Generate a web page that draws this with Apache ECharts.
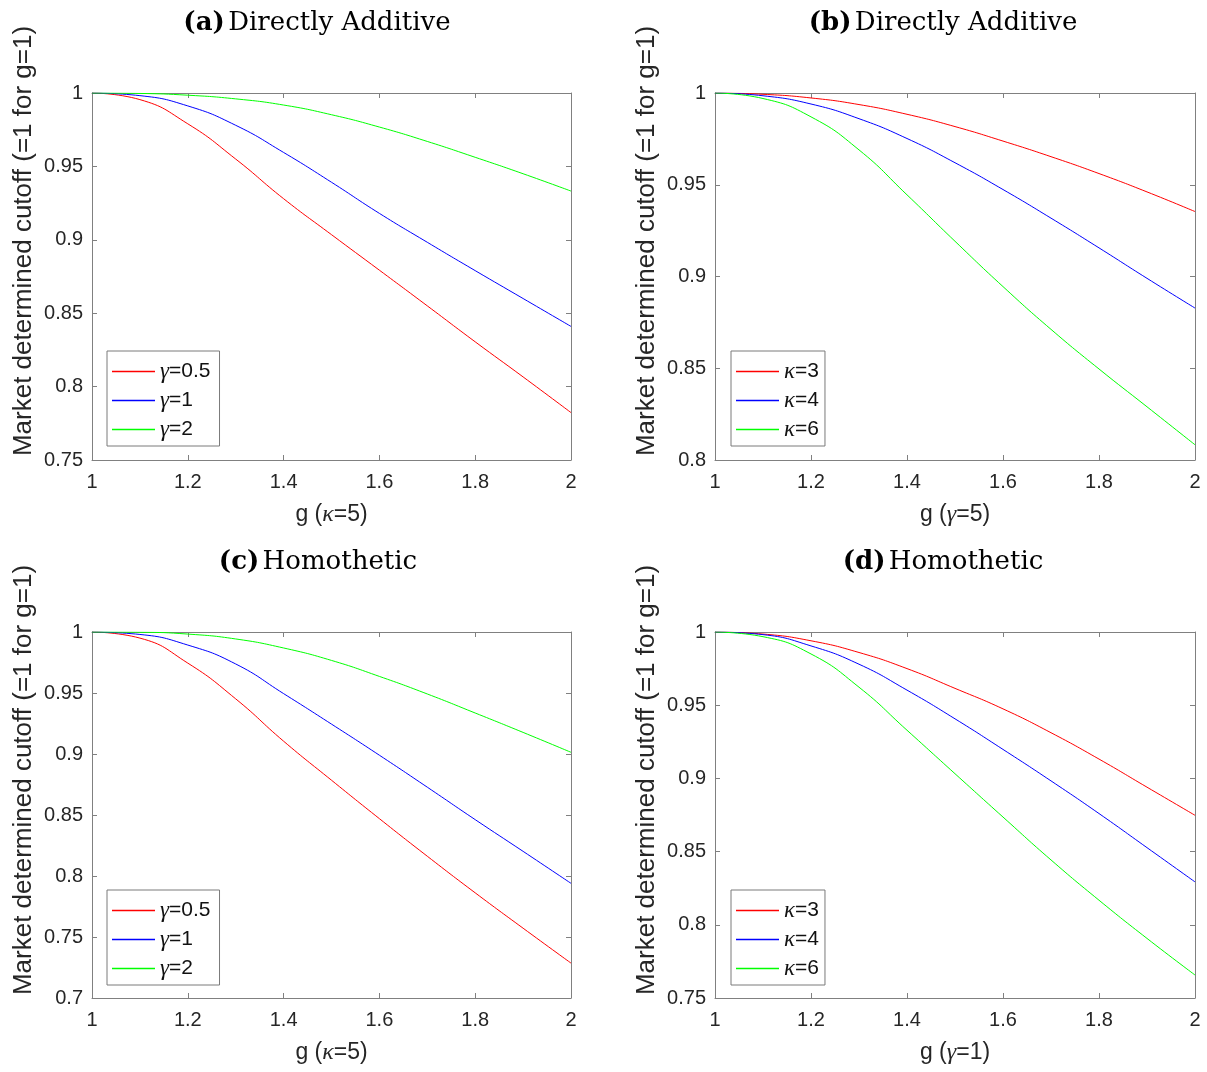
<!DOCTYPE html>
<html>
<head>
<meta charset="utf-8">
<script src="https://cdn.jsdelivr.net/npm/echarts@6/dist/echarts.min.js"></script>
<style>
html,body{margin:0;padding:0;background:#fff;}
#main{width:1207px;height:1072px;}
</style>
</head>
<body>
<div id="main"></div>
<script>
// ---- data ----
const gValues = [1, 1.1, 1.2, 1.3, 1.4, 1.5, 1.6, 1.7, 1.8, 1.9, 2];

// (a) Directly Additive, kappa = 5
const aGamma05 = [1, 0.9955, 0.979, 0.955, 0.928, 0.9035, 0.8793, 0.855, 0.8305, 0.8066, 0.7823];
const aGamma1  = [1, 0.9982, 0.9912, 0.978, 0.9595, 0.9392, 0.918, 0.8983, 0.879, 0.86, 0.841];
const aGamma2  = [1, 0.9997, 0.9985, 0.996, 0.9918, 0.9852, 0.9768, 0.967, 0.9562, 0.945, 0.9332];

// (b) Directly Additive, gamma = 5
const bKappa3 = [1, 0.9993, 0.9973, 0.9937, 0.9884, 0.9817, 0.9738, 0.9653, 0.9561, 0.9461, 0.9354];
const bKappa4 = [1, 0.9985, 0.994, 0.986, 0.9752, 0.962, 0.9474, 0.9318, 0.9156, 0.899, 0.8828];
const bKappa6 = [1, 0.997, 0.987, 0.969, 0.9445, 0.9192, 0.8945, 0.8712, 0.8496, 0.829, 0.8083];

// (c) Homothetic, kappa = 5
const cGamma05 = [1, 0.995, 0.9745, 0.9452, 0.9105, 0.8785, 0.847, 0.8162, 0.7862, 0.7572, 0.7286];
const cGamma1  = [1, 0.998, 0.9893, 0.9738, 0.9495, 0.9245, 0.899, 0.8728, 0.8462, 0.8202, 0.794];
const cGamma2  = [1, 0.9998, 0.9983, 0.9943, 0.9869, 0.9767, 0.9636, 0.9492, 0.9336, 0.9177, 0.9014];

// (d) Homothetic, gamma = 1
const dKappa3 = [1, 0.9986, 0.994, 0.986, 0.975, 0.9615, 0.9475, 0.9312, 0.9132, 0.894, 0.8748];
const dKappa4 = [1, 0.9982, 0.9905, 0.978, 0.9603, 0.9407, 0.9198, 0.8983, 0.876, 0.8527, 0.8293];
const dKappa6 = [1, 0.9968, 0.985, 0.9623, 0.9329, 0.9032, 0.8736, 0.8443, 0.8168, 0.7907, 0.7657];

const gammaNames = ['γ=0.5', 'γ=1', 'γ=2'];
const kappaNames = ['κ=3', 'κ=4', 'κ=6'];
const panelTitles = [['(a)', 'Directly Additive'], ['(b)', 'Directly Additive'], ['(c)', 'Homothetic'], ['(d)', 'Homothetic']];
const xAxisNames = [['g (', 'κ', '=5)'], ['g (', 'γ', '=5)'], ['g (', 'κ', '=5)'], ['g (', 'γ', '=1)']];
const yAxisName = 'Market determined cutoff (=1 for g=1)';
const yRanges = [[0.75, 1], [0.8, 1], [0.7, 1], [0.75, 1]];
const lineColors = ['#ff0000', '#0000ff', '#00ff00'];

// ---- layout ----
const grids = [
  {left: 92, top: 93, width: 479, height: 367},
  {left: 715, top: 93, width: 480, height: 367},
  {left: 92, top: 632, width: 479, height: 366},
  {left: 715, top: 632, width: 480, height: 366}
];
const titlePos = [[317, 23], [943, 23], [318, 562], [943, 562]];
const ylabelPos = [[24, 241], [647, 241], [24, 780], [647, 780]];
const legendPos = [[107, 351], [731, 351], [107, 890], [731, 890]];
const legendPadRight = [9, 6, 9, 6];

const panelSeries = [
  [aGamma05, aGamma1, aGamma2],
  [bKappa3, bKappa4, bKappa6],
  [cGamma05, cGamma1, cGamma2],
  [dKappa3, dKappa4, dKappa6]
];
const panelNames = [gammaNames, kappaNames, gammaNames, kappaNames];

const axisGray = '#808080';
const textColor = '#262626';
const sansFont = 'Liberation Sans, Arial, sans-serif';
const greekFont = 'Liberation Serif, serif';

const xAxes = [], yAxes = [], series = [], legends = [], graphics = [];

grids.forEach((gr, i) => {
  const [ymin, ymax] = yRanges[i];
  const xn = xAxisNames[i];
  xAxes.push({
    type: 'value', gridIndex: i, position: 'bottom', min: 1, max: 2, interval: 0.2,
    axisLine: {show: true, lineStyle: {color: axisGray, width: 1}},
    axisTick: {show: true, inside: true, length: 5, lineStyle: {color: axisGray}},
    axisLabel: {show: true, fontSize: 20, color: textColor, fontFamily: sansFont, margin: 12},
    splitLine: {show: false},
    name: '{n|' + xn[0] + '}{k|' + xn[1] + '}{n|' + xn[2] + '}',
    nameLocation: 'middle', nameGap: 43,
    nameTextStyle: {
      rich: {
        n: {fontSize: 23, color: textColor, fontFamily: sansFont},
        k: {fontSize: 24, color: textColor, fontFamily: greekFont, fontStyle: 'italic'}
      }
    }
  });
  xAxes.push({
    type: 'value', gridIndex: i, position: 'top', min: 1, max: 2, interval: 0.2,
    axisLine: {show: true, lineStyle: {color: axisGray, width: 1}},
    axisTick: {show: true, inside: true, length: 5, lineStyle: {color: axisGray}},
    axisLabel: {show: false}, splitLine: {show: false}
  });
  yAxes.push({
    type: 'value', gridIndex: i, position: 'left', min: ymin, max: ymax, interval: 0.05,
    axisLine: {show: true, lineStyle: {color: axisGray, width: 1}},
    axisTick: {show: true, inside: true, length: 5, lineStyle: {color: axisGray}},
    axisLabel: {show: true, fontSize: 20, color: textColor, fontFamily: sansFont, margin: 9},
    splitLine: {show: false}
  });
  yAxes.push({
    type: 'value', gridIndex: i, position: 'right', min: ymin, max: ymax, interval: 0.05,
    axisLine: {show: true, lineStyle: {color: axisGray, width: 1}},
    axisTick: {show: true, inside: true, length: 5, lineStyle: {color: axisGray}},
    axisLabel: {show: false}, splitLine: {show: false}
  });

  panelSeries[i].forEach((arr, j) => {
    series.push({
      type: 'line', name: panelNames[i][j],
      xAxisIndex: 2 * i, yAxisIndex: 2 * i,
      data: gValues.map((g, k) => [g, arr[k]]),
      symbol: 'none', smooth: 0.5,
      lineStyle: {color: lineColors[j], width: 1},
      itemStyle: {color: lineColors[j]},
      clip: true, silent: true, z: 3
    });
  });

  legends.push({
    orient: 'vertical', left: legendPos[i][0], top: legendPos[i][1],
    data: panelNames[i].map(n => ({name: n, icon: 'rect'})),
    backgroundColor: '#ffffff', borderColor: '#7a7a7a', borderWidth: 1,
    padding: [9, legendPadRight[i], 5, 5], itemGap: 6, itemWidth: 43, itemHeight: 1.3,
    selectedMode: false,
    formatter: name => '{s|' + name[0] + '}{t|' + name.slice(1) + '}',
    textStyle: {
      color: '#111',
      rich: {
        s: {fontSize: 23, fontFamily: greekFont, fontStyle: 'italic', color: '#111', lineHeight: 22},
        t: {fontSize: 21, fontFamily: sansFont, color: '#111', lineHeight: 22}
      }
    }
  });

  graphics.push({
    type: 'text', x: titlePos[i][0], y: titlePos[i][1],
    style: {
      text: '{b|' + panelTitles[i][0] + '} {r|' + panelTitles[i][1] + '}',
      align: 'center', verticalAlign: 'middle',
      rich: {
        b: {fontSize: 26, fontWeight: 'bold', fontFamily: 'DejaVu Serif, serif', fill: '#000'},
        r: {fontSize: 26, fontFamily: 'DejaVu Serif, serif', fill: '#000'}
      }
    }
  });
  graphics.push({
    type: 'text', x: ylabelPos[i][0], y: ylabelPos[i][1], rotation: Math.PI / 2,
    style: {
      text: yAxisName, align: 'center', verticalAlign: 'middle',
      fontSize: 26, fontFamily: sansFont, fill: textColor
    }
  });
});

const chart = echarts.init(document.getElementById('main'), null, {renderer: 'canvas'});
chart.setOption({
  animation: false,
  backgroundColor: '#ffffff',
  grid: grids.map(g => Object.assign({show: false, containLabel: false}, g)),
  xAxis: xAxes,
  yAxis: yAxes,
  legend: legends,
  series: series,
  graphic: graphics
});
</script>
</body>
</html>
